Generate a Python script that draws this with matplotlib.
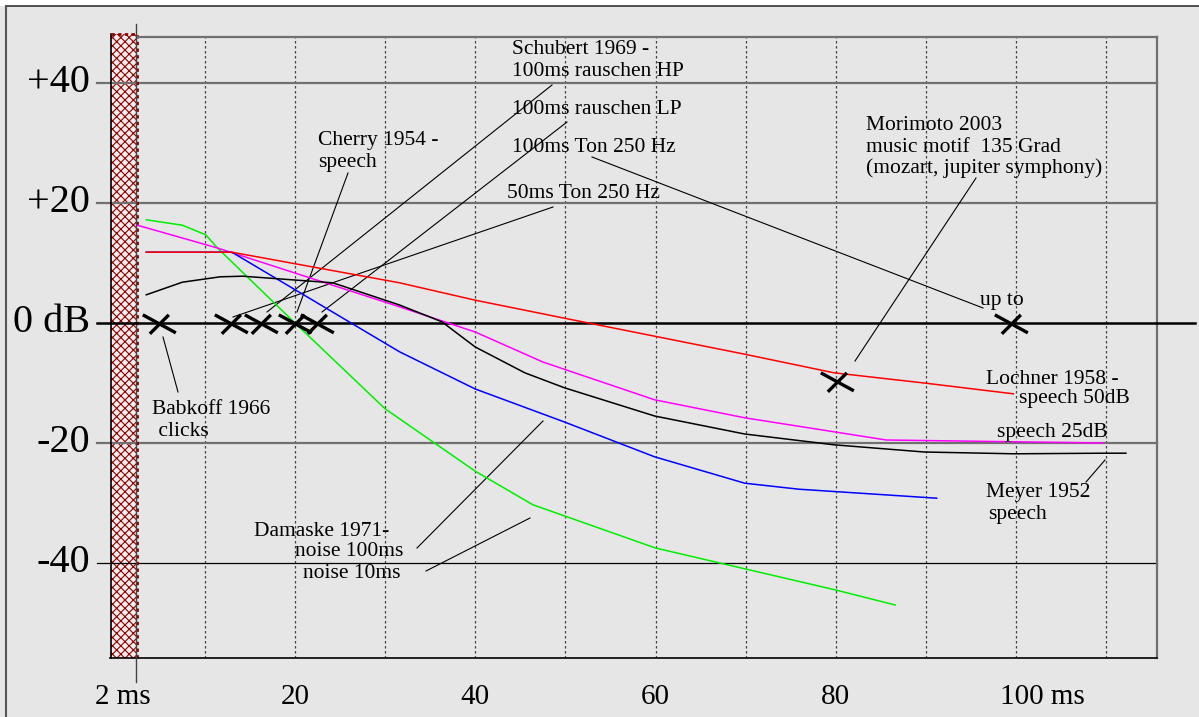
import numpy as np
import matplotlib
matplotlib.use('Agg')
import matplotlib.pyplot as plt
from matplotlib.patches import Rectangle
from matplotlib.path import Path

plt.rcParams['font.family'] = ['Liberation Serif', 'DejaVu Serif']
plt.rcParams['hatch.linewidth'] = 0.8

W, H = 1199, 717

# curves: delay in ms, level in dB
green_x = [3.5, 7.5, 10.1, 11.4, 20.0, 30.0, 40.0, 46.4, 60.0, 70.0, 80.0, 86.6]
green_y = [17.2, 16.3, 14.7, 12.5, 0.0, -14.3, -24.7, -30.3, -37.5, -41.0, -44.5, -47.0]

magenta_x = [2.5, 11.4, 31.6, 40.0, 47.5, 59.9, 69.9, 85.6, 109.7]
magenta_y = [16.3, 12.5, 2.7, -1.5, -6.5, -12.8, -15.8, -19.5, -20.0]

red_x = [3.5, 13.0, 31.6, 40.0, 49.9, 59.9, 69.9, 79.8, 89.8, 99.7]
red_y = [11.8, 11.8, 6.7, 3.8, 0.8, -2.2, -5.2, -8.3, -10.0, -11.8]

blue_x = [3.5, 13.0, 31.6, 40.0, 49.9, 59.9, 69.9, 75.9, 91.2]
blue_y = [11.8, 11.8, -4.8, -11.0, -16.5, -22.3, -26.7, -27.7, -29.2]

meyer_x = [3.5, 7.5, 11.7, 14.2, 24.2, 31.6, 36.3, 40.0, 45.5, 49.9, 59.9, 69.9, 79.8, 89.8, 99.8, 109.7, 112.2]
meyer_y = [4.7, 6.8, 7.7, 7.8, 6.7, 3.0, 0.2, -4.0, -8.3, -10.8, -15.5, -18.5, -20.3, -21.5, -21.8, -21.7, -21.7]

# thresholds marked with a cross
cross_x = [4.9, 12.9, 16.2, 20.0, 22.4, 99.4, 80.1]
cross_y = [0, 0, 0, 0, 0, 0, -9.7]

xtick_pos = [2, 20, 40, 60, 80, 100]
xtick_lab = ['2 ms', '20', '40', '60', '80', '100 ms']
ytick_pos = [40, 20, 0, -20, -40]
ytick_lab = ['+40', '+20', '0 dB', '-20', '-40']
vgrid = np.arange(10, 111, 10)

# pixel layout of the original picture
PX20, PXMS = 295.0, 9.0125
PY0, PYDB = 323.0, 6.0


def dx(px):
    return 20 + (px - PX20) / PXMS


def dy(py):
    return (PY0 - py) / PYDB


def fx(px):
    return px / W


def fy(py):
    return 1 - py / H


fig = plt.figure(figsize=(W / 100, H / 100), dpi=100, facecolor='#e6e6e6')
ax = fig.add_axes([fx(137), fy(658), fx(1157) - fx(137), fy(37) - fy(658)])
ax.set_facecolor('none')
ax.set_xlim(dx(137), dx(1157))
ax.set_ylim(dy(658), dy(37))
ax.axis('off')

# outer frame, white strip on top
fig.patches.append(Rectangle((0, fy(6)), 1, 1 - fy(6), transform=fig.transFigure,
                             facecolor='white', edgecolor='none'))
fig.lines.append(plt.Line2D([fx(6), 1], [fy(6), fy(6)], transform=fig.transFigure,
                            color='#333333', lw=1.2))
fig.lines.append(plt.Line2D([fx(6), fx(6)], [0, fy(6)], transform=fig.transFigure,
                            color='#555555', lw=1.5))

x0, x1 = ax.get_xlim()
y0, y1 = ax.get_ylim()

# hatched bar left of the axis
bar = Rectangle((dx(111), y0), x0 - dx(111), dy(34) - y0, facecolor='#f4ecec',
                edgecolor='#8b0000', hatch='xxxx', lw=0, clip_on=False, zorder=1)
ax.add_patch(bar)
ax.plot([dx(111), dx(111)], [y0, dy(34)], color='black', lw=1.2, clip_on=False, zorder=2)
ax.plot([x0, x0], [y0, dy(34)], color='#8b0000', lw=2, ls=(0, (1.2, 1.2)), clip_on=False, zorder=2)
ax.plot([dx(111), x0], [dy(34), dy(34)], color='#8b0000', lw=2, ls=(0, (1.2, 1.2)), clip_on=False, zorder=2)

# grid
for v in vgrid:
    ax.plot([v, v], [y0, y1], color='#444444', lw=0.9, ls=(0, (2, 2)), zorder=1)
for v in [40, 20, -20]:
    ax.plot([dx(97), x1], [v, v], color='#707070', lw=1.6, clip_on=False, zorder=1)
ax.plot([dx(97), x1], [-40, -40], color='black', lw=0.9, clip_on=False, zorder=1)
ax.plot([dx(97), dx(1195)], [0, 0], color='black', lw=1.8, clip_on=False, zorder=3)
ax.plot([x0, x1], [y1, y1], color='#707070', lw=1.6, clip_on=False)
ax.plot([x1, x1], [y0, y1], color='#707070', lw=1.6, clip_on=False)
ax.plot([dx(110), x1], [y0, y0], color='black', lw=1.2, clip_on=False)
ax.plot([x0 - 0.1, x0 - 0.1], [dy(682), dy(24)], color='#444444', lw=1.0, clip_on=False, zorder=2)

# curves
ax.plot(green_x, green_y, color='#00ee00', lw=1.1, zorder=4)
ax.plot(magenta_x, magenta_y, color='#ff00ff', lw=1.1, zorder=4)
ax.plot(blue_x, blue_y, color='#0000ff', lw=1.1, zorder=4)
ax.plot(red_x, red_y, color='#ff0000', lw=1.1, zorder=4)
ax.plot(meyer_x, meyer_y, color='black', lw=1.1, zorder=4)

cross = Path([(-1, 0.52), (0.98, -0.56), (-0.58, -0.62), (0.56, 0.52)],
             [Path.MOVETO, Path.LINETO, Path.MOVETO, Path.LINETO])
ax.plot(cross_x, cross_y, ls='none', marker=cross, ms=24, mew=2.4,
        mec='black', mfc='none', zorder=5, clip_on=False)

# leader lines (pixel layout of the original)
leaders = [
    ((348, 173), (297, 312)),
    ((552, 85), (267, 312)),
    ((567, 122), (322, 312)),
    ((553, 207), (233, 317)),
    ((592, 157), (983, 308)),
    ((976, 178), (855, 361)),
    ((163, 337), (178, 392)),
    ((1086, 482), (1105, 460)),
    ((417, 548), (543, 421)),
    ((426, 571), (530, 518)),
]
for (ax_, ay_), (bx_, by_) in leaders:
    ax.plot([dx(ax_), dx(bx_)], [dy(ay_), dy(by_)], color='black', lw=0.8, zorder=3)

labels = [
    ('Cherry 1954 -', 318, 141), ('speech', 318, 163),
    ('Schubert 1969 -', 512, 50), ('100ms rauschen HP', 512, 72),
    ('100ms rauschen LP', 512, 109),
    ('100ms Ton 250 Hz', 512, 148),
    ('50ms Ton 250 Hz', 507, 194),
    ('Morimoto 2003', 866, 125), ('music motif  135 Grad', 866, 147),
    ('(mozart, jupiter symphony)', 866, 168),
    ('up to', 980, 300),
    ('Lochner 1958 -', 986, 379), ('speech 50dB', 1019, 398),
    ('speech 25dB', 997, 432),
    ('Meyer 1952', 986, 493), ('speech', 988, 514),
    ('Babkoff 1966', 152, 409), (' clicks', 153, 432),
    ('Damaske 1971-', 254, 531), ('noise 100ms', 295, 552), ('noise 10ms', 303, 574),
]
for s, px_, py_ in labels:
    ax.text(dx(px_), dy(py_), s, fontsize=15.5, ha='left', va='center', zorder=6)

for v, s in zip(ytick_pos, ytick_lab):
    ax.text(dx(90), v, s, fontsize=29, ha='right', va='center', clip_on=False)
for v, s in zip(xtick_pos, xtick_lab):
    if s.endswith('ms') and v > 50:
        ax.text(dx(1000), dy(697), s, fontsize=21, ha='left', va='center')
    elif s.endswith('ms'):
        ax.text(dx(95), dy(697), s, fontsize=21, ha='left', va='center')
    else:
        ax.text(v, dy(697), s, fontsize=21, ha='center', va='center')

fig.savefig('out.png', dpi=100, facecolor=fig.get_facecolor())
